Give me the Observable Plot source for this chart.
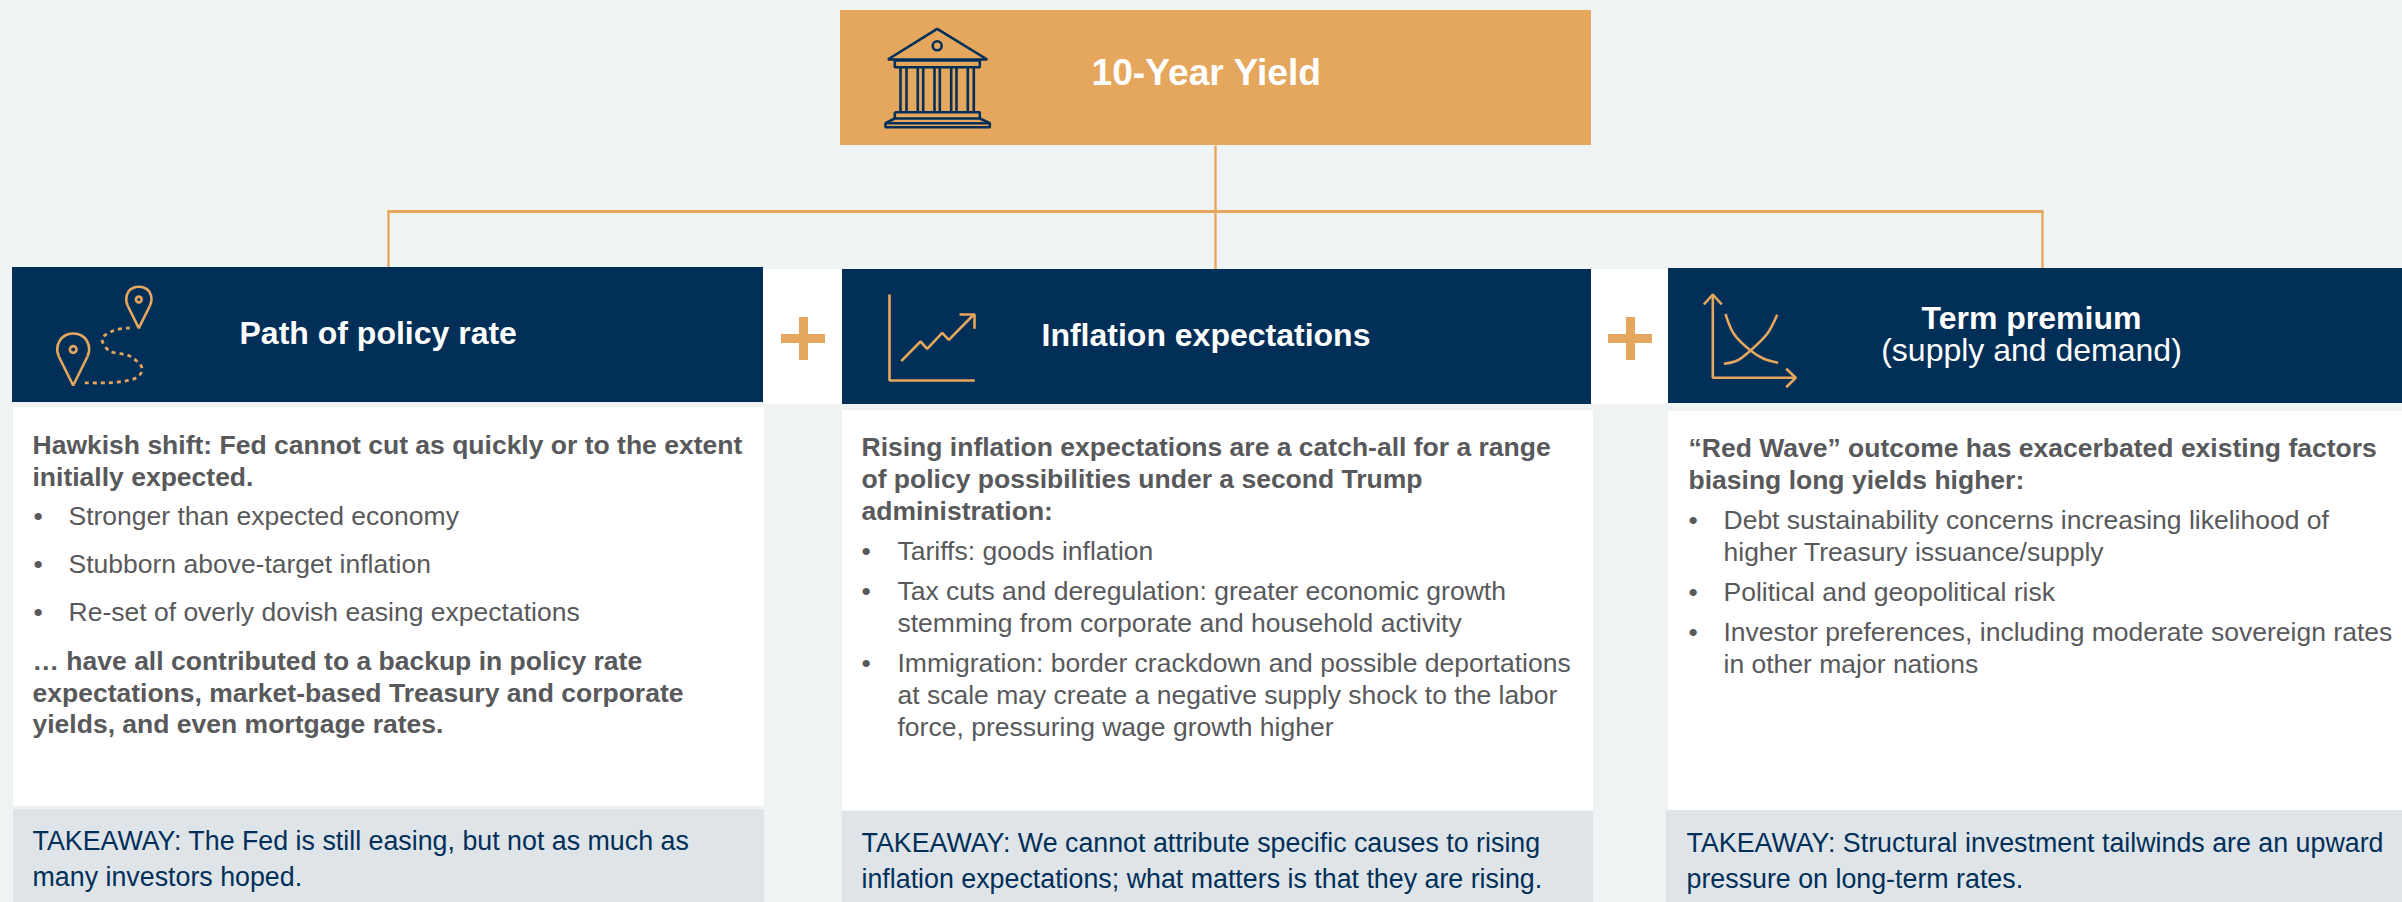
<!DOCTYPE html>
<html><head><meta charset="utf-8">
<style>html,body{margin:0;padding:0;background:#f0f3f4}svg{display:block}</style>
<script src="https://cdn.jsdelivr.net/npm/d3@7"></script>
<script src="https://cdn.jsdelivr.net/npm/@observablehq/plot@0.6"></script>
</head><body><div id="chart"></div>
<script>
// ---- words ----
const rootTitle = ["10-Year Yield"];
const leftTitles = ["Path of policy rate", "Inflation expectations"];
const termTitle = ["Term premium"];
const termSubtitle = ["(supply and demand)"];
const policyBold = ["Hawkish shift: Fed cannot cut as quickly or to the extent","initially expected.","… have all contributed to a backup in policy rate","expectations, market-based Treasury and corporate","yields, and even mortgage rates."];
const policyBullets = ["Stronger than expected economy","Stubborn above-target inflation","Re-set of overly dovish easing expectations"];
const inflationBold = ["Rising inflation expectations are a catch-all for a range","of policy possibilities under a second Trump","administration:"];
const inflationBullets = ["Tariffs: goods inflation","Tax cuts and deregulation: greater economic growth","stemming from corporate and household activity","Immigration: border crackdown and possible deportations","at scale may create a negative supply shock to the labor","force, pressuring wage growth higher"];
const termBold = ["“Red Wave” outcome has exacerbated existing factors","biasing long yields higher:"];
const termBullets = ["Debt sustainability concerns increasing likelihood of","higher Treasury issuance/supply","Political and geopolitical risk","Investor preferences, including moderate sovereign rates","in other major nations"];
const takeaways = ["TAKEAWAY: The Fed is still easing, but not as much as","many investors hoped.","TAKEAWAY: We cannot attribute specific causes to rising","inflation expectations; what matters is that they are rising.","TAKEAWAY: Structural investment tailwinds are an upward","pressure on long-term rates."];

// ---- diagram layout, in the units of the x and y scales ----
const rootBox = [{x1:840,x2:1591,y1:10,y2:145}];
const driverBoxes = [{x1:12,x2:763,y1:267,y2:402},{x1:842,x2:1591,y1:269,y2:404},{x1:1668,x2:2402,y1:268,y2:403}];
const gapBoxes = [{x1:763,x2:842,y1:269,y2:404},{x1:1591,x2:1668,y1:269,y2:404}];
const bodyBoxes = [{x1:13,x2:764,y1:407,y2:806},{x1:842,x2:1593,y1:410,y2:810},{x1:1668,x2:2402,y1:411,y2:810}];
const takeawayBoxes = [{x1:13,x2:764,y1:809,y2:902},{x1:842,x2:1593,y1:811,y2:902},{x1:1666,x2:2402,y1:810,y2:902}];
const connectorDrops = [
  [[1215,145],[1215,269]],
  [[388,211],[388,267]],
  [[2042,211],[2042,268]]
];
const connectorBar = [[[387,211],[2043,211]]];
const plusCentres = [{x:803,y:338},{x:1630,y:338}];
const leftTitleX = [239,1041], leftTitleY = [343,345];
const policyBoldY = [453,485,669,701,732], policyBulletY = [524,572,620];
const inflationBoldY = [455,487,519], inflationBulletY = [559,599,631,671,703,735], inflationDotY = [559,599,671];
const termBoldY = [456,488], termBulletY = [528,560,600,640,672], termDotY = [528,600,640];
const takeawayY = [849,885,851,887,851,887], takeawayX = [32,32,861,861,1686,1686];

// icons
const templeLines = [
  [[887.3,59],[936.7,28.3],[986.7,59],[887.3,59]],
  [[894.3,60],[979.3,60],[979.3,66.7],[894.3,66.7],[894.3,60]],
  [[894.3,111.7],[979.3,111.7],[979.3,118],[894.3,118],[894.3,111.7]],
  [[894.3,118],[885,122.7],[885,126.7],[989.3,126.7],[989.3,122.7],[979.3,118]],
  [[885,122.7],[989.3,122.7]],
  [[900,66.7],[900,111.7]],[[906,66.7],[906,111.7]],
  [[917.3,66.7],[917.3,111.7]],[[922.7,66.7],[922.7,111.7]],
  [[934,66.7],[934,111.7]],[[939.3,66.7],[939.3,111.7]],
  [[950.7,66.7],[950.7,111.7]],[[956,66.7],[956,111.7]],
  [[967.3,66.7],[967.3,111.7]],[[973.3,66.7],[973.3,111.7]]
];
const templeRing = [{x:936.7,y:45.3}];
const pinHeads = [
  [[58.3,356],[56.7,349],[59,340.5],[64.5,335],[72.7,333],[81,335],[86.5,340.5],[88.7,349],[87,356]],
  [[127.3,305.5],[125.7,299],[128,291],[133,287.3],[138.3,286.3],[143.7,287.3],[148.7,291],[151,299],[149.3,305.5]]
];
const pinTips = [
  [[58.3,356],[72.7,385],[87,356]],
  [[127.3,305.5],[138.3,327.7],[149.3,305.5]]
];
const pinRings = [{x:72.7,y:349,r:6.5},{x:138.3,y:299,r:4.8}];
const pinRoute = [[129.3,327.3],[113.3,330],[101.7,338.3],[108.3,350],[130,356],[141.7,368.3],[136.7,376.7],[116.7,381.7],[83.3,382.3]];
const growthLines = [
  [[889,294],[889,380],[974.3,380]],
  [[900.7,360.7],[920,341],[926.7,348.3],[941.7,332.3],[948.3,339.3],[973.3,314]],
  [[959,314],[974,314],[974,328.3]]
];
const supplyAxes = [
  [[1712.3,294],[1712.3,377.3],[1795,377.3]],
  [[1703.3,304],[1712.3,294],[1721.3,304]],
  [[1785.7,368.3],[1795.3,377.3],[1785.7,386.7]]
];
const supplyCurves = [
  [[1725,313.3],[1733.3,333.3],[1750,350],[1763.3,358.3],[1777.7,362.3]],
  [[1723.3,363.3],[1736.7,360],[1750,350],[1766.7,333.3],[1776.7,314.3]]
];

// ---- styles ----
const ORANGE="#e5a65e", NAVY="#012f58", GREY="#58595b", BAND="#dee4e8", FONT="'Liberation Sans', Arial, sans-serif";
const BODY=26.5, TAKE=26.8, HEAD=32, ROOT=37.2;

const flat = (paths) => paths.flatMap((p,k)=>p.map(([x,y])=>({x,y,k})));
const path = (paths,opts) => Plot.line(flat(paths),{x:"x",y:"y",z:"k",strokeLinejoin:"miter",strokeLinecap:"butt",...opts});
const box = (rows,fill) => Plot.rect(rows,{x1:"x1",x2:"x2",y1:"y1",y2:"y2",fill});
const lines = (strs,x,ys,opts) => Plot.text(strs,{x:()=>x,y:(d,i)=>ys[i],text:d=>d,lineAnchor:"bottom",textAnchor:"start",fontFamily:FONT,fontSize:BODY,fill:GREY,...opts});
const dots = (x,ys) => Plot.text(ys,{x:()=>x,y:d=>d,text:()=>"•",lineAnchor:"bottom",textAnchor:"start",fontFamily:FONT,fontSize:BODY,fill:GREY});

const plot = Plot.plot({
  width:2402,height:902,margin:0,
  style:{background:"#f0f3f4"},
  x:{domain:[0,2402],range:[0,2402],axis:null},
  y:{domain:[0,902],range:[0,902],axis:null},
  marks:[
    path(connectorDrops,{stroke:ORANGE,strokeWidth:2.4}),
    path(connectorBar,{stroke:ORANGE,strokeWidth:3}),
    box(rootBox,ORANGE),box(gapBoxes,"#ffffff"),box(driverBoxes,NAVY),box(bodyBoxes,"#ffffff"),box(takeawayBoxes,BAND),
    Plot.ruleY(plusCentres,{x1:d=>d.x-22,x2:d=>d.x+22,y:"y",stroke:ORANGE,strokeWidth:9}),
    Plot.ruleX(plusCentres,{y1:d=>d.y-21,y2:d=>d.y+22,x:"x",stroke:ORANGE,strokeWidth:9}),
    // titles
    lines(rootTitle,1091,[84],{fontWeight:"bold",fontSize:ROOT,fill:"#ffffff"}),
    Plot.text(leftTitles,{x:(d,i)=>leftTitleX[i],y:(d,i)=>leftTitleY[i],text:d=>d,textAnchor:"start",lineAnchor:"bottom",fontFamily:FONT,fontWeight:"bold",fontSize:HEAD,fill:"#ffffff"}),
    Plot.text(termTitle,{x:()=>2031,y:()=>328,text:d=>d,textAnchor:"middle",lineAnchor:"bottom",fontFamily:FONT,fontWeight:"bold",fontSize:HEAD,fill:"#ffffff"}),
    Plot.text(termSubtitle,{x:()=>2031,y:()=>360,text:d=>d,lineAnchor:"bottom",textAnchor:"middle",fontFamily:FONT,fontSize:HEAD,fill:"#ffffff"}),
    // panel text
    lines(policyBold,32,policyBoldY,{fontWeight:"bold"}),
    dots(33,policyBulletY),lines(policyBullets,68,policyBulletY),
    lines(inflationBold,861,inflationBoldY,{fontWeight:"bold"}),
    dots(861,inflationDotY),lines(inflationBullets,897,inflationBulletY),
    lines(termBold,1688,termBoldY,{fontWeight:"bold"}),
    dots(1688,termDotY),lines(termBullets,1723,termBulletY),
    Plot.text(takeaways,{x:(d,i)=>takeawayX[i],y:(d,i)=>takeawayY[i],text:d=>d,lineAnchor:"bottom",textAnchor:"start",fontFamily:FONT,fontSize:TAKE,fill:NAVY}),
    // icons
    path(templeLines,{stroke:NAVY,strokeWidth:2.6}),
    Plot.dot(templeRing,{x:"x",y:"y",r:4.5,stroke:NAVY,strokeWidth:2.6,fill:"none"}),
    path(pinHeads,{stroke:ORANGE,strokeWidth:2.6,curve:"catmull-rom"}),
    path(pinTips,{stroke:ORANGE,strokeWidth:2.6}),
    Plot.dot(pinRings,{x:"x",y:"y",r:"r",stroke:ORANGE,strokeWidth:2.6,fill:"none"}),
    path([pinRoute],{stroke:ORANGE,strokeWidth:2.8,strokeDasharray:"4 4",curve:"catmull-rom"}),
    path(growthLines,{stroke:ORANGE,strokeWidth:2.6}),
    path(supplyAxes,{stroke:ORANGE,strokeWidth:2.6}),
    path(supplyCurves,{stroke:ORANGE,strokeWidth:2.6,curve:"catmull-rom"})
  ]
});
document.getElementById("chart").append(plot);
</script></body></html>
